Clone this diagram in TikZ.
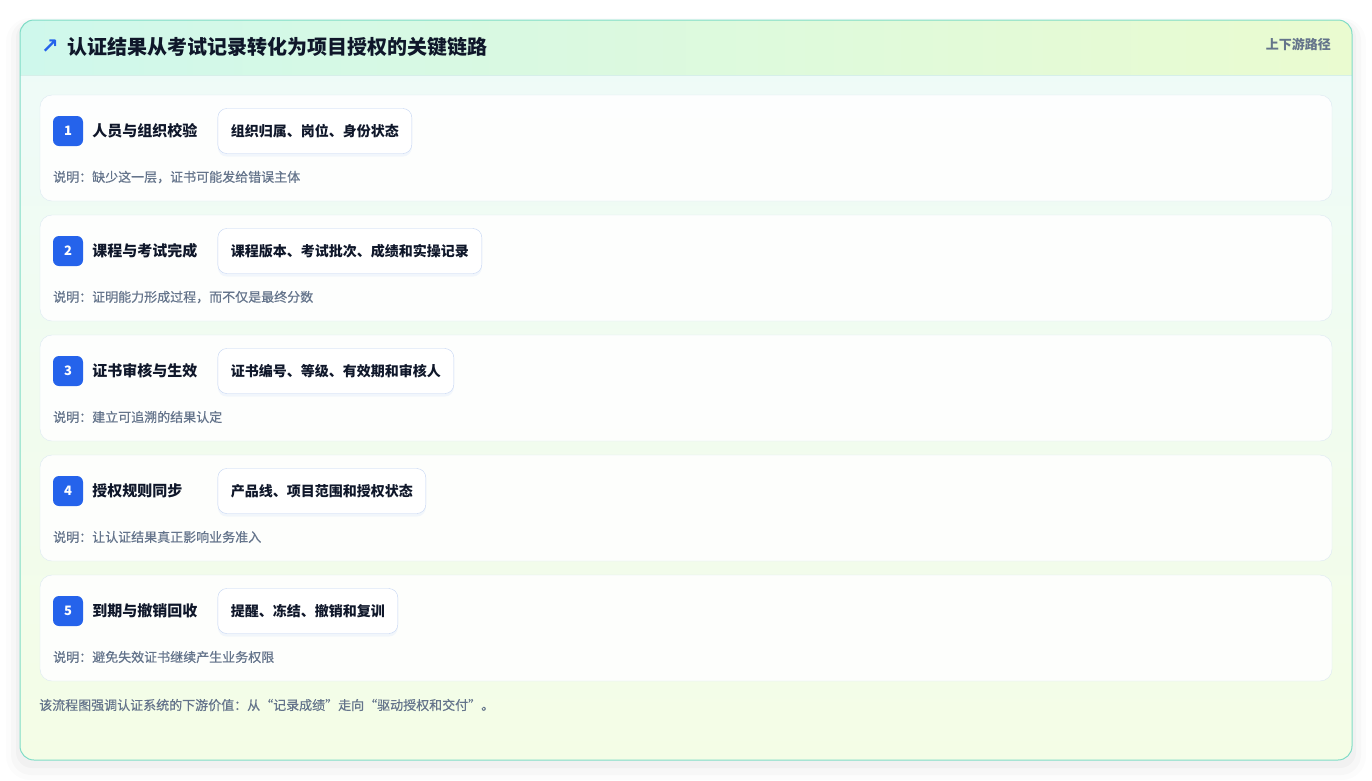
\documentclass[tikz,border=0pt]{standalone}
\usepackage{fontspec}
\setmainfont{Noto Sans CJK SC}
\newfontfamily\arrowfont{DejaVu Sans}
\newfontfamily\notefont[FakeBold=0.5]{Noto Sans CJK SC}
\usetikzlibrary{positioning,calc,shadows}
\definecolor{cardedge}{HTML}{7FDCC6}
\definecolor{headL}{HTML}{CFF8EC}
\definecolor{headR}{HTML}{EAFBD0}
\definecolor{bodyT}{HTML}{EEFBF9}
\definecolor{bodyB}{HTML}{F4FDE6}
\definecolor{headrule}{HTML}{D6EFE9}
\definecolor{rowedge}{HTML}{DCE8F2}
\definecolor{badgeblue}{HTML}{2563EB}
\definecolor{ink}{HTML}{0F172A}
\definecolor{muted}{HTML}{64748B}
\definecolor{pilledge}{HTML}{C3D4F3}
\tikzstyle{stage}=[draw=rowedge,fill=white,fill opacity=0.88,rounded corners=12pt,minimum width=1292pt,minimum height=106pt,inner sep=0pt]
\tikzstyle{badge}=[fill=badgeblue,rounded corners=6pt,minimum size=30pt,inner sep=0pt,text=white,font=\fontsize{13}{15}\selectfont\bfseries]
\tikzstyle{head}=[inner sep=0pt,text width=112pt,align=left,text=ink,font=\fontsize{15}{18}\selectfont\bfseries]
\tikzstyle{pill}=[draw=pilledge,fill=white,rounded corners=9pt,minimum height=45pt,inner xsep=13pt,inner ysep=0pt,text=ink,font=\fontsize{14}{17}\selectfont\bfseries,drop shadow={opacity=0.05,shadow xshift=0pt,shadow yshift=-3pt,fill=badgeblue}]
\tikzstyle{note}=[anchor=west,inner sep=0pt,text=muted,font=\notefont\fontsize{13}{16}\selectfont]

\begin{document}
\begin{tikzpicture}[x=1pt,y=-1pt]
\useasboundingbox (0,0) rectangle (1372,780);
% soft shadow under the card
\fill[black,opacity=0.012,rounded corners=24pt] (6,18) rectangle (1366,780);
\fill[black,opacity=0.018,rounded corners=20pt] (11,20) rectangle (1361,775);
\fill[black,opacity=0.025,rounded corners=16pt] (16,22) rectangle (1356,768);
% card body and header band
\shade[top color=bodyT,bottom color=bodyB,rounded corners=14pt] (20,20) rectangle (1352,760);
\begin{scope}
\clip[rounded corners=14pt] (20,20) rectangle (1352,760);
\shade[left color=headL,right color=headR] (20,20) rectangle (1352,75);
\end{scope}
\draw[headrule] (20,75.5) -- (1352,75.5);
\draw[cardedge,line width=1pt,rounded corners=14pt] (20,20) rectangle (1352,760);

\node[anchor=west,inner sep=0pt,text=ink,font=\fontsize{20}{24}\selectfont\bfseries] (ttl) at (67,47) {认证结果从考试记录转化为项目授权的关键链路};
\node[left=8pt of ttl,inner sep=0pt,text=badgeblue,font=\arrowfont\fontsize{21}{24}\selectfont\bfseries] (arw) {↗};
\node[anchor=east,inner sep=0pt,text=muted,font=\fontsize{13}{16}\selectfont\bfseries] (tag) at (1331,44) {上下游路径};

% stage 1
\node[stage] (s1) at (686,148) {};
\node[badge] (b1) at (68,131) {1};
\node[head,right=9pt of b1] (h1) {人员与组织校验};
\node[pill,right=13pt of h1] (p1) {组织归属、岗位、身份状态};
\node[note] (n1) at (53,177) {说明：缺少这一层，证书可能发给错误主体};

% stage 2
\node[stage] (s2) at (686,268) {};
\node[badge] (b2) at (68,251) {2};
\node[head,right=9pt of b2] (h2) {课程与考试完成};
\node[pill,right=13pt of h2] (p2) {课程版本、考试批次、成绩和实操记录};
\node[note] (n2) at (53,297) {说明：证明能力形成过程，而不仅是最终分数};

% stage 3
\node[stage] (s3) at (686,388) {};
\node[badge] (b3) at (68,371) {3};
\node[head,right=9pt of b3] (h3) {证书审核与生效};
\node[pill,right=13pt of h3] (p3) {证书编号、等级、有效期和审核人};
\node[note] (n3) at (53,417) {说明：建立可追溯的结果认定};

% stage 4
\node[stage] (s4) at (686,508) {};
\node[badge] (b4) at (68,491) {4};
\node[head,right=9pt of b4] (h4) {授权规则同步};
\node[pill,right=13pt of h4] (p4) {产品线、项目范围和授权状态};
\node[note] (n4) at (53,537) {说明：让认证结果真正影响业务准入};

% stage 5
\node[stage] (s5) at (686,628) {};
\node[badge] (b5) at (68,611) {5};
\node[head,right=9pt of b5] (h5) {到期与撤销回收};
\node[pill,right=13pt of h5] (p5) {提醒、冻结、撤销和复训};
\node[note] (n5) at (53,657) {说明：避免失效证书继续产生业务权限};

\node[note] (foot) at (39,705) {该流程图强调认证系统的下游价值：从“记录成绩”走向“驱动授权和交付”。};
\end{tikzpicture}
\end{document}
